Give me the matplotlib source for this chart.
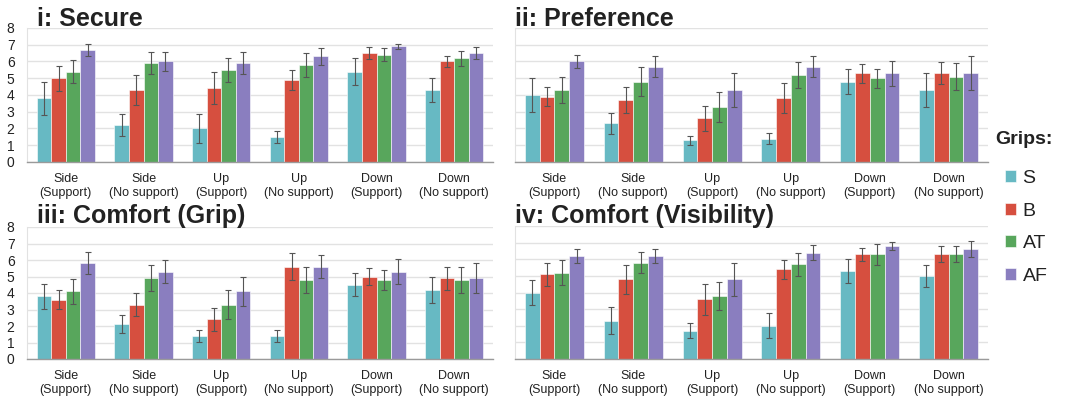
import matplotlib
matplotlib.use("Agg")
import matplotlib.pyplot as plt
import numpy as np

plt.rcParams['font.family'] = ['Liberation Sans', 'DejaVu Sans']

categories = ["Side\n(Support)", "Side\n(No support)", "Up\n(Support)",
              "Up\n(No support)", "Down\n(Support)", "Down\n(No support)"]
grips = ["S", "B", "AT", "AF"]
colors = ["#67B9C3", "#D64F3F", "#58A65C", "#8A7EBF"]

titles = ["i: Secure", "ii: Preference", "iii: Comfort (Grip)", "iv: Comfort (Visibility)"]

# values per grip (rows S, B, AT, AF) per category
secure_mean = [[3.8, 2.2, 2.0, 1.5, 5.4, 4.3],
               [5.0, 4.3, 4.4, 4.9, 6.5, 6.0],
               [5.4, 5.9, 5.5, 5.8, 6.4, 6.2],
               [6.7, 6.0, 5.9, 6.3, 6.9, 6.5]]
secure_err = [[1.0, 0.65, 0.85, 0.35, 0.8, 0.7],
              [0.75, 0.9, 0.95, 0.6, 0.35, 0.35],
              [0.7, 0.65, 0.7, 0.7, 0.4, 0.45],
              [0.35, 0.55, 0.65, 0.5, 0.15, 0.35]]

pref_mean = [[4.0, 2.3, 1.3, 1.4, 4.8, 4.3],
             [3.9, 3.7, 2.6, 3.8, 5.3, 5.3],
             [4.3, 4.8, 3.3, 5.2, 5.0, 5.1],
             [6.0, 5.7, 4.3, 5.7, 5.3, 5.3]]
pref_err = [[1.0, 0.6, 0.27, 0.33, 0.77, 1.0],
            [0.55, 0.8, 0.75, 0.9, 0.57, 0.65],
            [0.8, 0.85, 0.9, 0.77, 0.57, 0.8],
            [0.37, 0.65, 1.0, 0.65, 0.75, 1.0]]

grip_mean = [[3.8, 2.1, 1.4, 1.4, 4.5, 4.2],
             [3.6, 3.3, 2.4, 5.6, 5.0, 4.9],
             [4.1, 4.9, 3.3, 4.8, 4.8, 4.8],
             [5.8, 5.3, 4.1, 5.6, 5.3, 4.9]]
grip_err = [[0.75, 0.55, 0.37, 0.37, 0.7, 0.8],
            [0.57, 0.7, 0.7, 0.8, 0.5, 0.7],
            [0.77, 0.8, 0.87, 0.8, 0.6, 0.8],
            [0.67, 0.7, 0.9, 0.7, 0.77, 0.9]]

vis_mean = [[4.0, 2.3, 1.7, 2.0, 5.3, 5.0],
            [5.1, 4.8, 3.6, 5.4, 6.3, 6.3],
            [5.2, 5.8, 3.8, 5.7, 6.3, 6.3],
            [6.2, 6.2, 4.8, 6.4, 6.8, 6.6]]
vis_err = [[0.75, 0.8, 0.45, 0.75, 0.7, 0.67],
           [0.7, 0.87, 0.93, 0.57, 0.4, 0.47],
           [0.73, 0.63, 0.83, 0.7, 0.63, 0.47],
           [0.4, 0.4, 1.0, 0.47, 0.23, 0.47]]

means = [secure_mean, pref_mean, grip_mean, vis_mean]
errs = [secure_err, pref_err, grip_err, vis_err]

W, H = 1065, 401
fig = plt.figure(figsize=(W / 100, H / 100), dpi=100)

# axes rectangles in pixel coords: left, top(y of 8), right, bottom(y of 0)
rects = [(27, 28, 493, 162), (515, 28, 988, 162),
         (27, 227, 493, 359), (515, 226, 988, 359)]

x = np.arange(len(categories))
bw = 0.1875
handles = None
for k in range(4):
    l, t, r, b = rects[k]
    ax = fig.add_axes([l / W, 1 - b / H, (r - l) / W, (b - t) / H])
    hs = []
    for g in range(4):
        pos = x + (g - 1.5) * bw
        h = ax.bar(pos, means[k][g], bw, color=colors[g], edgecolor='white',
                   linewidth=0.4, zorder=2, label=grips[g])
        ax.errorbar(pos, means[k][g], yerr=errs[k][g], fmt='none',
                    ecolor='#555555', elinewidth=0.8, capsize=2.2,
                    capthick=0.8, zorder=3)
        hs.append(h)
    if handles is None:
        handles = hs
    ax.set_xlim(-0.5, len(categories) - 0.5)
    ax.set_ylim(0, 8)
    ax.set_yticks(range(0, 9))
    ax.yaxis.grid(True, color='#E2E2E2', linewidth=1.0, zorder=0)
    ax.set_axisbelow(True)
    for s in ['top', 'right']:
        ax.spines[s].set_visible(False)
    ax.spines['left'].set_color('#E2E2E2')
    ax.spines['left'].set_linewidth(0.8)
    ax.spines['bottom'].set_color('#9A9A9A')
    ax.spines['bottom'].set_linewidth(1.0)
    ax.set_xticks(x)
    ax.set_xticklabels(categories, fontsize=9, color='#222222', linespacing=1.25)
    ax.tick_params(axis='x', length=0, pad=8)
    ax.tick_params(axis='y', length=0, pad=9, labelsize=10, labelcolor='#222222')
    if k in (1, 3):
        ax.tick_params(axis='y', labelleft=False)
    tx = 37 if k in (0, 2) else 515
    ty = 26 if k < 2 else 223
    fig.text(tx / W, 1 - ty / H, titles[k], fontsize=18, fontweight='bold',
             color='#222222', ha='left', va='baseline')

fig.text(995 / W, 1 - 139 / H, "Grips:", fontsize=14, fontweight='bold',
         color='#222222', ha='left', va='center')
fig.legend(handles, grips, loc='upper left', bbox_to_anchor=(1005 / W, 1 - 170 / H),
           frameon=False, fontsize=14, labelcolor='#222222',
           handlelength=0.55, handleheight=0.55, handletextpad=0.35,
           labelspacing=0.8, borderpad=0, borderaxespad=0)

fig.savefig("out.png", dpi=100)
